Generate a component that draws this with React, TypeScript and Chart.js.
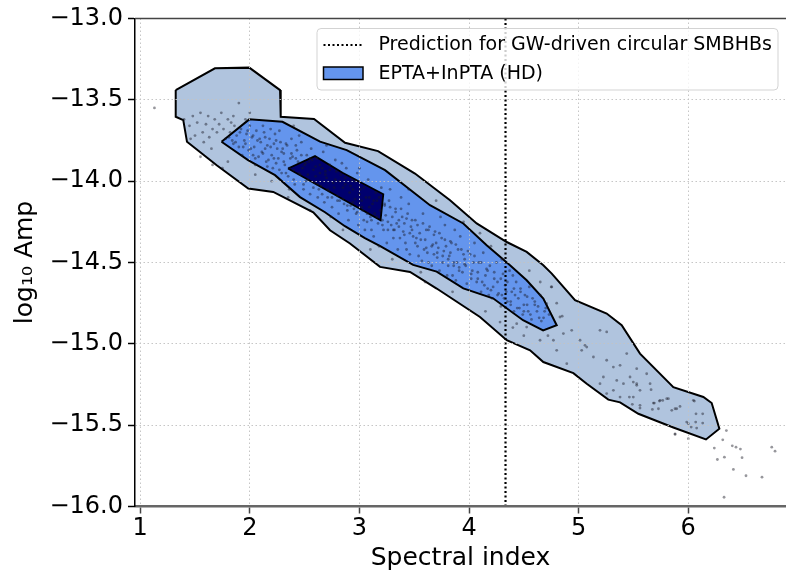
import React, { useEffect, useRef } from 'react';
import { Chart, registerables } from 'chart.js';

Chart.register(...registerables);

// ---------- data ----------
const xTicks = [1, 2, 3, 4, 5, 6];
const xTickLabels = ['1', '2', '3', '4', '5', '6'];
const yTicks = [-16, -15.5, -15, -14.5, -14, -13.5, -13];
const yTickLabels = ['−16.0', '−15.5', '−15.0', '−14.5', '−14.0', '−13.5', '−13.0'];

const xAxisTitle = 'Spectral index';
const yAxisTitle = 'log₁₀ Amp';
const legendLabels = ['Prediction for GW-driven circular SMBHBs', 'EPTA+InPTA (HD)'];

const predictionIndex = 4.333;

const outerContour: [number, number][] = [
  [1.324, -13.44], [1.682, -13.306], [1.995, -13.302], [2.276, -13.44], [2.282, -13.604],
  [2.586, -13.618], [2.869, -13.764], [3.17, -13.815], [3.507, -13.953], [3.827, -14.117],
  [4.07, -14.26], [4.344, -14.374], [4.526, -14.435], [4.678, -14.517], [4.755, -14.568],
  [4.967, -14.732], [5.256, -14.814], [5.393, -14.886], [5.56, -15.06], [5.864, -15.266],
  [6.138, -15.327], [6.214, -15.364], [6.284, -15.522], [6.162, -15.588], [5.864, -15.514],
  [5.545, -15.43], [5.378, -15.36], [5.271, -15.343], [5.074, -15.245], [4.952, -15.18],
  [4.678, -15.112], [4.557, -15.04], [4.344, -14.978], [4.1, -14.835], [3.705, -14.66],
  [3.462, -14.558], [3.188, -14.527], [2.914, -14.383], [2.732, -14.302], [2.579, -14.191],
  [2.214, -14.066], [1.986, -14.045], [1.698, -13.902], [1.427, -13.758], [1.393, -13.625],
  [1.324, -13.604],
];

const middleContour: [number, number][] = [
  [1.742, -13.758], [1.995, -13.62], [2.298, -13.635], [2.641, -13.757], [2.884, -13.809],
  [3.234, -13.932], [3.644, -14.148], [3.948, -14.26], [4.161, -14.394], [4.374, -14.517],
  [4.526, -14.609], [4.678, -14.722], [4.8, -14.886], [4.676, -14.917], [4.493, -14.855],
  [4.219, -14.72], [3.948, -14.659], [3.705, -14.556], [3.49, -14.515], [3.19, -14.4],
  [3.05, -14.35], [2.868, -14.277], [2.686, -14.191], [2.458, -14.098], [2.23, -13.963],
  [1.984, -13.871],
];

const innerContour: [number, number][] = [
  [2.349, -13.922], [2.595, -13.846], [2.846, -13.948], [3.218, -14.08], [3.193, -14.24],
];

const samples: [number, number][] = [
  // sparse left cluster
  [1.13, -13.55], [1.4, -13.62], [1.45, -13.66], [1.48, -13.6], [1.52, -13.64], [1.55, -13.58],
  [1.57, -13.7], [1.6, -13.65], [1.62, -13.6], [1.63, -13.73], [1.66, -13.68], [1.68, -13.62],
  [1.7, -13.7], [1.72, -13.65], [1.5, -13.72], [1.58, -13.76], [1.65, -13.8], [1.74, -13.58],
  [1.76, -13.68], [1.8, -13.62], [1.85, -13.6], [1.9, -13.52], [1.55, -13.85], [1.66, -13.9],
  [1.75, -13.92], [1.8, -13.88], [1.46, -13.74], [2.0, -13.58], [1.96, -13.62],
  // dense band
  [1.78, -13.74], [1.82, -13.7], [1.85, -13.77], [1.88, -13.72], [1.9, -13.79], [1.92, -13.68],
  [1.95, -13.75], [1.97, -13.71], [1.99, -13.81], [2.0, -13.66], [1.86, -13.66], [1.93, -13.84],
  [2.02, -13.73], [2.04, -13.79], [2.06, -13.69], [2.08, -13.85], [2.1, -13.76], [2.11, -13.82],
  [2.13, -13.7], [2.15, -13.88], [2.16, -13.78], [2.18, -13.74], [2.2, -13.84], [2.21, -13.92],
  [2.23, -13.71], [2.25, -13.8], [2.26, -13.86], [2.28, -13.76], [2.29, -13.95], [2.05, -13.9],
  [2.12, -13.66], [2.19, -13.68], [2.27, -13.69],
  [2.31, -13.83], [2.32, -13.9], [2.34, -13.78], [2.35, -13.97], [2.37, -13.86], [2.38, -13.74],
  [2.4, -13.93], [2.41, -14.02], [2.43, -13.81], [2.44, -13.88], [2.46, -13.96], [2.47, -13.76],
  [2.49, -14.05], [2.5, -13.9], [2.52, -13.84], [2.53, -13.99], [2.55, -14.08], [2.56, -13.8],
  [2.58, -13.93], [2.59, -14.01], [2.36, -14.05], [2.45, -13.72], [2.57, -13.87],
  [2.61, -13.86], [2.62, -14.1], [2.64, -13.95], [2.65, -14.03], [2.67, -13.82], [2.68, -14.13],
  [2.7, -13.98], [2.72, -14.06], [2.73, -13.9], [2.75, -14.16], [2.76, -14.01], [2.78, -13.87],
  [2.8, -14.09], [2.81, -14.2], [2.83, -13.96], [2.85, -14.04], [2.86, -14.14], [2.88, -13.92],
  [2.9, -14.24], [2.91, -14.07], [2.93, -13.99], [2.95, -14.17], [2.96, -14.11], [2.98, -13.95],
  [2.99, -14.27], [2.66, -13.92], [2.74, -14.22], [2.84, -13.89], [2.92, -14.15],
  [3.01, -14.05], [3.03, -14.18], [3.05, -14.3], [3.06, -14.1], [3.08, -13.99], [3.1, -14.22],
  [3.12, -14.14], [3.13, -14.34], [3.15, -14.07], [3.17, -14.26], [3.19, -14.18], [3.2, -14.04],
  [3.22, -14.3], [3.24, -14.21], [3.25, -14.38], [3.27, -14.12], [3.29, -14.27], [3.31, -14.35],
  [3.33, -14.17], [3.35, -14.42], [3.36, -14.24], [3.38, -14.1], [3.4, -14.31], [3.42, -14.38],
  [3.44, -14.2], [3.46, -14.45], [3.47, -14.28], [3.49, -14.34], [3.07, -14.25], [3.18, -14.4],
  [3.28, -14.05], [3.39, -14.22], [3.45, -14.14],
  [3.51, -14.24], [3.53, -14.4], [3.55, -14.32], [3.57, -14.49], [3.58, -14.2], [3.6, -14.36],
  [3.62, -14.44], [3.64, -14.28], [3.66, -14.52], [3.67, -14.39], [3.69, -14.31], [3.71, -14.47],
  [3.73, -14.55], [3.75, -14.35], [3.77, -14.43], [3.78, -14.27], [3.8, -14.58], [3.82, -14.46],
  [3.84, -14.38], [3.86, -14.52], [3.88, -14.61], [3.9, -14.42], [3.92, -14.34], [3.94, -14.56],
  [3.96, -14.48], [3.98, -14.63], [3.56, -14.56], [3.74, -14.22], [3.87, -14.3],
  [4.01, -14.45], [4.03, -14.55], [4.05, -14.38], [4.07, -14.62], [4.09, -14.5], [4.11, -14.68],
  [4.13, -14.44], [4.15, -14.58], [4.17, -14.66], [4.19, -14.52], [4.21, -14.72], [4.23, -14.6],
  [4.25, -14.5], [4.27, -14.69], [4.29, -14.77], [4.31, -14.57], [4.33, -14.64], [4.35, -14.74],
  [4.37, -14.55], [4.39, -14.68], [4.41, -14.8], [4.43, -14.62], [4.45, -14.72], [4.47, -14.66],
  [4.49, -14.82], [4.51, -14.7], [4.53, -14.76], [4.55, -14.65], [4.57, -14.85], [4.6, -14.74],
  [4.62, -14.8], [4.65, -14.7], [4.68, -14.84], [4.7, -14.78], [4.73, -14.82], [4.2, -14.4],
  [4.4, -14.58],
  [1.84, -13.75], [1.96, -13.77], [2.03, -13.84], [2.07, -13.75], [2.14, -13.8], [2.17, -13.87],
  [2.22, -13.77], [2.24, -13.89], [2.3, -13.8], [2.33, -13.95], [2.39, -13.85], [2.42, -13.78],
  [2.48, -13.92], [2.51, -14.0], [2.54, -13.88], [2.6, -13.97], [2.63, -14.05], [2.69, -13.94],
  [2.71, -14.1], [2.77, -14.04], [2.79, -13.94], [2.82, -14.12], [2.87, -14.02], [2.89, -14.18],
  [2.94, -14.05], [2.97, -14.2], [3.02, -14.12], [3.04, -14.24], [3.09, -14.16], [3.11, -14.3],
  [3.14, -14.2], [3.16, -14.12], [3.21, -14.24], [3.23, -14.15], [3.26, -14.3], [3.3, -14.22],
  [3.32, -14.3], [3.34, -14.26], [3.37, -14.35], [3.41, -14.26], [3.43, -14.42], [3.48, -14.3],
  [3.52, -14.35], [3.54, -14.46], [3.59, -14.42], [3.61, -14.3], [3.63, -14.5], [3.68, -14.45],
  [3.7, -14.38], [3.72, -14.41], [3.76, -14.5], [3.79, -14.4], [3.81, -14.52], [3.83, -14.44],
  [3.85, -14.58], [3.89, -14.5], [3.91, -14.55], [3.95, -14.45], [3.97, -14.52], [4.02, -14.6],
  [4.04, -14.5], [4.08, -14.56], [4.12, -14.62], [4.16, -14.54], [4.18, -14.7], [4.22, -14.65],
  [4.26, -14.62], [4.3, -14.7], [4.34, -14.68], [4.38, -14.74], [4.42, -14.7], [4.46, -14.78],
  [4.5, -14.76], [4.54, -14.8], [4.58, -14.72], [4.63, -14.77], [4.66, -14.86],
  [1.81, -13.73], [1.83, -13.64], [1.87, -13.76], [1.91, -13.7], [1.94, -13.79], [1.98, -13.69],
  [2.01, -13.8], [2.03, -13.72], [2.05, -13.86], [2.09, -13.74], [2.12, -13.83], [2.14, -13.73],
  [2.16, -13.91], [2.19, -13.79], [2.22, -13.86], [2.24, -13.75], [2.27, -13.93], [2.29, -13.82],
  [2.31, -13.88], [2.33, -13.77], [2.36, -13.92], [2.38, -13.83], [2.4, -13.99], [2.42, -13.86],
  [2.45, -13.95], [2.47, -13.84], [2.49, -14.02], [2.51, -13.89], [2.53, -13.96], [2.55, -13.86],
  [2.58, -14.04], [2.6, -13.91], [2.62, -14.02], [2.64, -13.9], [2.66, -14.08], [2.69, -13.96],
  [2.71, -14.05], [2.73, -13.93], [2.75, -14.1], [2.78, -13.99], [2.8, -14.12], [2.82, -14.0],
  [2.85, -14.11], [2.87, -13.98], [2.89, -14.15], [2.92, -14.03], [2.94, -14.13], [2.96, -14.0],
  [2.98, -14.19], [3.0, -14.08], [3.02, -14.16], [3.04, -14.04], [3.07, -14.2], [3.09, -14.1],
  [3.11, -14.24], [3.13, -14.12], [3.16, -14.22], [3.18, -14.1], [3.21, -14.27], [3.23, -14.14],
  [3.26, -14.25], [3.28, -14.16], [3.31, -14.3], [3.33, -14.19], [3.36, -14.28], [3.38, -14.17],
  [3.41, -14.33], [3.43, -14.23], [3.46, -14.32], [3.48, -14.24], [3.51, -14.38], [3.53, -14.27],
  [3.56, -14.36], [3.58, -14.26], [3.61, -14.41], [3.63, -14.3], [3.66, -14.4], [3.68, -14.33],
  [3.71, -14.44], [3.73, -14.32], [3.76, -14.46], [3.78, -14.36], [3.81, -14.48], [3.83, -14.37],
  [3.86, -14.5], [3.88, -14.39], [3.91, -14.53], [3.93, -14.42], [3.96, -14.51], [3.99, -14.43],
  [4.02, -14.57], [4.05, -14.46], [4.08, -14.6], [4.11, -14.5], [4.14, -14.64], [4.17, -14.55],
  [4.2, -14.67], [4.23, -14.56], [4.26, -14.7], [4.29, -14.6], [4.32, -14.72], [4.35, -14.62],
  [4.38, -14.76], [4.41, -14.66], [4.44, -14.78], [4.47, -14.68], [4.5, -14.8], [4.53, -14.71],
  [4.56, -14.82], [4.6, -14.76], [4.64, -14.84], [4.69, -14.8],
  // sparse points in the outer region
  [2.05, -13.96], [2.2, -14.0], [2.35, -14.1], [2.4, -13.66], [2.7, -13.78], [2.55, -14.18],
  [2.85, -14.3], [3.1, -14.42], [3.0, -13.92], [3.3, -14.48], [3.45, -14.05], [3.6, -14.62],
  [3.7, -14.12], [3.85, -14.68], [3.95, -14.25], [4.1, -14.32], [4.15, -14.8], [4.3, -14.48],
  [4.4, -14.9], [4.55, -14.55], [4.5, -14.95], [4.65, -14.62], [4.75, -14.65], [4.8, -14.75],
  [4.85, -14.83], [4.72, -14.95],
  // tail
  [4.937, -14.917], [4.77, -14.978], [4.861, -14.937], [5.013, -14.978], [5.074, -15.02],
  [5.058, -15.009], [5.195, -14.917], [5.256, -14.927], [5.135, -15.081], [5.028, -15.04],
  [4.892, -15.122], [4.8, -15.04], [4.648, -14.978], [4.526, -14.897], [4.435, -14.876],
  [4.283, -14.866], [5.256, -15.101], [5.317, -15.143], [5.378, -15.132], [5.226, -15.204],
  [5.195, -15.245], [5.348, -15.225], [5.409, -15.245], [5.469, -15.204], [5.53, -15.245],
  [5.56, -15.286], [5.621, -15.184], [5.439, -15.06], [5.53, -15.153], [5.317, -15.286],
  [5.378, -15.327], [5.256, -15.306], [5.499, -15.327], [5.682, -15.364], [5.743, -15.347],
  [5.804, -15.337], [5.56, -15.378], [5.895, -15.399], [5.88, -15.553], [6.001, -15.491],
  [6.047, -15.347], [4.709, -14.753], [4.83, -14.835], [4.755, -14.65],
  [6.056, -15.352], [6.071, -15.43], [6.132, -15.43], [6.068, -15.481], [6.132, -15.487],
  [6.077, -15.518], [6.027, -15.512], [5.986, -15.481], [5.925, -15.385], [5.88, -15.399],
  [5.85, -15.409], [5.819, -15.337], [5.767, -15.348], [5.737, -15.352], [5.691, -15.364],
  [5.728, -15.399], [5.673, -15.403], [5.661, -15.282], [5.56, -15.395], [5.49, -15.372],
  [5.463, -15.327], [5.53, -15.255], [5.499, -15.235], [5.652, -15.245],
  // outliers beyond the contour
  [6.348, -15.533], [6.315, -15.59], [6.238, -15.641], [6.266, -15.711], [6.33, -15.697],
  [6.402, -15.627], [6.436, -15.635], [6.476, -15.647], [6.491, -15.7], [6.412, -15.772],
  [6.527, -15.811], [6.673, -15.82], [6.762, -15.635], [6.792, -15.66], [6.327, -15.943],
  [5.88, -15.557], [6.001, -15.583],
];

// ---------- helpers ----------
const toPts = (arr: [number, number][], close = false) => {
  const pts = arr.map(([x, y]) => ({ x, y }));
  if (close && pts.length) pts.push({ ...pts[0] });
  return pts;
};

const FONT = 'DejaVu Sans';

const topSpinePlugin = {
  id: 'topSpine',
  afterDraw(chart: any) {
    const { ctx, chartArea } = chart;
    ctx.save();
    ctx.strokeStyle = '#444';
    ctx.lineWidth = 1.5;
    ctx.beginPath();
    ctx.moveTo(chartArea.left, chartArea.top);
    ctx.lineTo(chartArea.right, chartArea.top);
    ctx.stroke();
    ctx.restore();
  },
};

const legendPlugin = {
  id: 'boxLegend',
  afterDraw(chart: any) {
    const ctx = chart.ctx;
    const x0 = 317, y0 = 28.5, w = 461, h = 61.5;
    ctx.save();
    ctx.beginPath();
    if (ctx.roundRect) ctx.roundRect(x0, y0, w, h, 4);
    else ctx.rect(x0, y0, w, h);
    ctx.fillStyle = 'rgba(255,255,255,0.8)';
    ctx.fill();
    ctx.strokeStyle = '#d3d3d3';
    ctx.lineWidth = 1;
    ctx.stroke();

    ctx.setLineDash([2, 2.5]);
    ctx.strokeStyle = '#000';
    ctx.lineWidth = 2;
    ctx.beginPath();
    ctx.moveTo(323.5, 45);
    ctx.lineTo(363, 45);
    ctx.stroke();
    ctx.setLineDash([]);

    ctx.fillStyle = '#6495ED';
    ctx.fillRect(323.5, 67, 39.5, 12.5);
    ctx.strokeStyle = '#000';
    ctx.lineWidth = 1.5;
    ctx.strokeRect(323.5, 67, 39.5, 12.5);

    ctx.fillStyle = '#000';
    ctx.font = `19px "${FONT}"`;
    ctx.textBaseline = 'middle';
    ctx.textAlign = 'left';
    ctx.fillText(legendLabels[0], 378.5, 45.5);
    ctx.fillText(legendLabels[1], 378.5, 74);
    ctx.restore();
  },
};

export default function App() {
  const canvasRef = useRef<HTMLCanvasElement | null>(null);

  useEffect(() => {
    const canvas = canvasRef.current;
    if (!canvas) return;
    const chart = new Chart(canvas, {
      type: 'scatter',
      data: {
        datasets: [
          {
            type: 'scatter',
            data: toPts(samples),
            pointRadius: 1.4,
            pointBorderWidth: 0,
            pointBackgroundColor: 'rgba(25,25,35,0.45)',
            order: 0,
          } as any,
          {
            type: 'line',
            data: [
              { x: predictionIndex, y: -16 },
              { x: predictionIndex, y: -13 },
            ],
            borderColor: '#000',
            borderWidth: 2.2,
            borderDash: [2, 2.5],
            pointRadius: 0,
            fill: false,
            order: 1,
          } as any,
          {
            type: 'line',
            data: toPts(innerContour, true),
            borderColor: '#000',
            borderWidth: 1.8,
            backgroundColor: '#00006e',
            fill: 'shape',
            pointRadius: 0,
            tension: 0,
            order: 2,
          } as any,
          {
            type: 'line',
            data: toPts(middleContour, true),
            borderColor: '#000',
            borderWidth: 2,
            backgroundColor: '#6495ED',
            fill: 'shape',
            pointRadius: 0,
            tension: 0,
            order: 3,
          } as any,
          {
            type: 'line',
            data: toPts(outerContour, true),
            borderColor: '#000',
            borderWidth: 2,
            backgroundColor: '#B0C4DE',
            fill: 'shape',
            pointRadius: 0,
            tension: 0,
            order: 4,
          } as any,
        ],
      },
      options: {
        animation: false,
        responsive: false,
        events: [],
        layout: { autoPadding: false, padding: { top: 18.5, right: 0, bottom: 0, left: 0 } },
        plugins: {
          legend: { display: false },
          tooltip: { enabled: false },
        },
        scales: {
          x: {
            type: 'linear',
            min: 0.9526,
            max: 6.892,
            afterBuildTicks: (s: any) => {
              s.ticks = xTicks.map((v) => ({ value: v }));
            },
            afterFit: (s: any) => {
              s.height = 66.5;
              s.paddingLeft = 0;
              s.paddingRight = 0;
            },
            ticks: {
              callback: (_v: any, i: number) => xTickLabels[i],
              font: { family: FONT, size: 24 },
              color: '#000',
              padding: 1,
              maxRotation: 0,
              autoSkip: false,
            },
            grid: {
              color: 'rgba(195,195,195,0.95)',
              lineWidth: 1,
              z: 1,
              drawTicks: true,
              tickLength: 7,
              tickColor: '#444',
              tickWidth: 1.5,
              tickBorderDash: [],
            },
            border: { display: true, color: '#666', width: 2.5, dash: [1.5, 2.5], z: 2 },
            title: {
              display: true,
              text: xAxisTitle,
              font: { family: FONT, size: 25 },
              color: '#000',
              padding: { top: 0, bottom: 0 },
            },
          } as any,
          y: {
            type: 'linear',
            min: -16,
            max: -13,
            afterBuildTicks: (s: any) => {
              s.ticks = yTicks.map((v) => ({ value: v }));
            },
            afterFit: (s: any) => {
              s.width = 135;
              s.paddingTop = 0;
              s.paddingBottom = 0;
            },
            ticks: {
              callback: (_v: any, i: number) => yTickLabels[i],
              font: { family: FONT, size: 24 },
              color: '#000',
              padding: 5,
              autoSkip: false,
            },
            grid: {
              color: 'rgba(195,195,195,0.95)',
              lineWidth: 1,
              z: 1,
              drawTicks: true,
              tickLength: 7,
              tickColor: '#000',
              tickWidth: 1.5,
              tickBorderDash: [],
            },
            border: { display: true, color: '#000', width: 1.5, dash: [1.5, 2.5], z: 2 },
            title: {
              display: true,
              text: yAxisTitle,
              font: { family: FONT, size: 25 },
              color: '#000',
              padding: { top: 10, bottom: 0 },
            },
          } as any,
        },
      },
      plugins: [topSpinePlugin, legendPlugin],
    });
    return () => chart.destroy();
  }, []);

  return (
    <div style={{ position: 'absolute', left: 0, top: 0, width: 786, height: 573, background: '#fff' }}>
      <canvas ref={canvasRef} width={786} height={573} style={{ width: 786, height: 573, display: 'block' }} />
    </div>
  );
}
